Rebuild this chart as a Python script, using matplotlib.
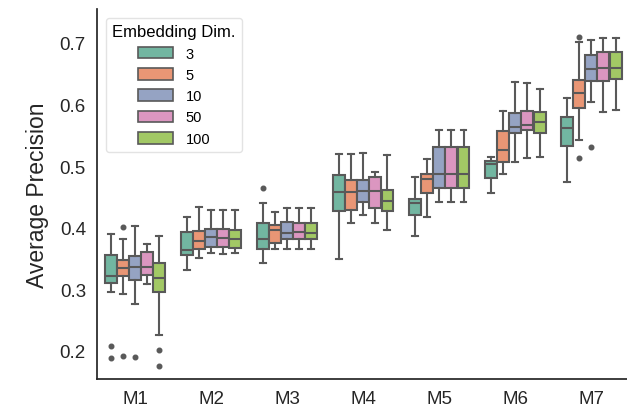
import matplotlib
matplotlib.use("Agg")
import matplotlib.pyplot as plt
from matplotlib.patches import Patch
import colorsys
import seaborn as sns

plt.rcParams['font.family'] = ['Liberation Sans', 'DejaVu Sans']

categories = ["M1", "M2", "M3", "M4", "M5", "M6", "M7"]
dims = ["3", "5", "10", "50", "100"]

# per dim: lists over categories
whislo = {
    "3":   [0.295, 0.332, 0.343, 0.350, 0.387, 0.456, 0.475],
    "5":   [0.292, 0.351, 0.366, 0.407, 0.418, 0.487, 0.542],
    "10":  [0.277, 0.359, 0.366, 0.421, 0.442, 0.506, 0.604],
    "50":  [0.308, 0.358, 0.366, 0.408, 0.442, 0.513, 0.588],
    "100": [0.226, 0.359, 0.366, 0.396, 0.442, 0.515, 0.591],
}
q1 = {
    "3":   [0.310, 0.356, 0.365, 0.427, 0.421, 0.480, 0.533],
    "5":   [0.322, 0.366, 0.376, 0.429, 0.456, 0.507, 0.595],
    "10":  [0.315, 0.368, 0.381, 0.441, 0.465, 0.553, 0.638],
    "50":  [0.324, 0.368, 0.381, 0.432, 0.465, 0.558, 0.638],
    "100": [0.295, 0.367, 0.381, 0.427, 0.465, 0.553, 0.642],
}
med = {
    "3":   [0.321, 0.364, 0.381, 0.458, 0.440, 0.504, 0.562],
    "5":   [0.335, 0.379, 0.397, 0.458, 0.479, 0.526, 0.619],
    "10":  [0.336, 0.385, 0.391, 0.459, 0.488, 0.564, 0.657],
    "50":  [0.337, 0.384, 0.393, 0.459, 0.488, 0.566, 0.659],
    "100": [0.318, 0.382, 0.392, 0.443, 0.488, 0.571, 0.659],
}
q3 = {
    "3":   [0.355, 0.393, 0.408, 0.485, 0.447, 0.508, 0.579],
    "5":   [0.347, 0.394, 0.405, 0.478, 0.488, 0.557, 0.639],
    "10":  [0.354, 0.398, 0.409, 0.478, 0.531, 0.587, 0.681],
    "50":  [0.361, 0.398, 0.407, 0.482, 0.531, 0.590, 0.685],
    "100": [0.343, 0.396, 0.407, 0.462, 0.531, 0.588, 0.685],
}
whishi = {
    "3":   [0.390, 0.418, 0.440, 0.520, 0.482, 0.515, 0.610],
    "5":   [0.381, 0.434, 0.425, 0.520, 0.511, 0.589, 0.701],
    "10":  [0.403, 0.429, 0.432, 0.522, 0.559, 0.637, 0.705],
    "50":  [0.374, 0.429, 0.432, 0.491, 0.559, 0.635, 0.708],
    "100": [0.387, 0.429, 0.432, 0.518, 0.559, 0.625, 0.708],
}
fliers = {
    "3":   [[0.208, 0.189], [], [0.465], [], [], [], []],
    "5":   [[0.401, 0.192], [], [], [], [], [], [0.710, 0.513]],
    "10":  [[0.191], [], [], [], [], [], [0.531]],
    "50":  [[], [], [], [], [], [], []],
    "100": [[0.202, 0.176], [], [], [], [], [], []],
}

base = sns.color_palette("Set2", len(dims))
colors = [sns.desaturate(c, 0.75) for c in base]
lum = min(colorsys.rgb_to_hls(*c)[1] for c in colors) * 0.6
gray = (lum, lum, lum)

fig = plt.figure(figsize=(6.27, 4.14), dpi=100)
ax = fig.add_axes([97/627, 1 - 380/414, 1 - 97/627, 370/414])

n = len(dims)
group_w = 0.8
each = group_w / n
for j, d in enumerate(dims):
    stats = []
    for i in range(len(categories)):
        stats.append(dict(med=med[d][i], q1=q1[d][i], q3=q3[d][i],
                          whislo=whislo[d][i], whishi=whishi[d][i],
                          fliers=fliers[d][i]))
    pos = [i - group_w / 2 + each / 2 + j * each for i in range(len(categories))]
    ax.bxp(stats, positions=pos, widths=each * 0.98, patch_artist=True,
           showfliers=True, manage_ticks=False,
           boxprops=dict(facecolor=colors[j], edgecolor=gray, linewidth=1.5),
           medianprops=dict(color=gray, linewidth=1.5),
           whiskerprops=dict(color=gray, linewidth=1.5),
           capprops=dict(color=gray, linewidth=1.5),
           flierprops=dict(marker='o', markerfacecolor=gray, markeredgecolor=gray,
                           markersize=3.3, linestyle='none'))

ax.set_xticks(range(len(categories)))
ax.set_xticklabels(categories)
ax.set_xlim(-0.5, 6.47)
ax.set_ylim(0.1545, 0.755)
ax.set_yticks([0.2, 0.3, 0.4, 0.5, 0.6, 0.7])
ax.set_yticklabels(["0.2", "0.3", "0.4", "0.5", "0.6", "0.7"])
ax.tick_params(length=0, pad=8, labelsize=13.5, colors='#262626')
ax.set_ylabel("Average Precision", fontsize=16.5, color='#262626', labelpad=8)

for s in ["top", "right"]:
    ax.spines[s].set_visible(False)
for s in ["left", "bottom"]:
    ax.spines[s].set_color('#262626')
    ax.spines[s].set_linewidth(1.25)

handles = [Patch(facecolor=colors[j], edgecolor=gray, linewidth=1.2, label=d)
           for j, d in enumerate(dims)]
leg = ax.legend(handles=handles, title="Embedding Dim.", loc="upper left",
                fontsize=10.5, title_fontsize=12, frameon=True,
                handlelength=2.4, handleheight=0.85, labelspacing=0.5,
                borderaxespad=0.6, handletextpad=0.9, borderpad=0.45)
leg.get_frame().set_edgecolor('#dddddd')
leg._legend_box.align = "center"

fig.savefig("out.png", dpi=100)
